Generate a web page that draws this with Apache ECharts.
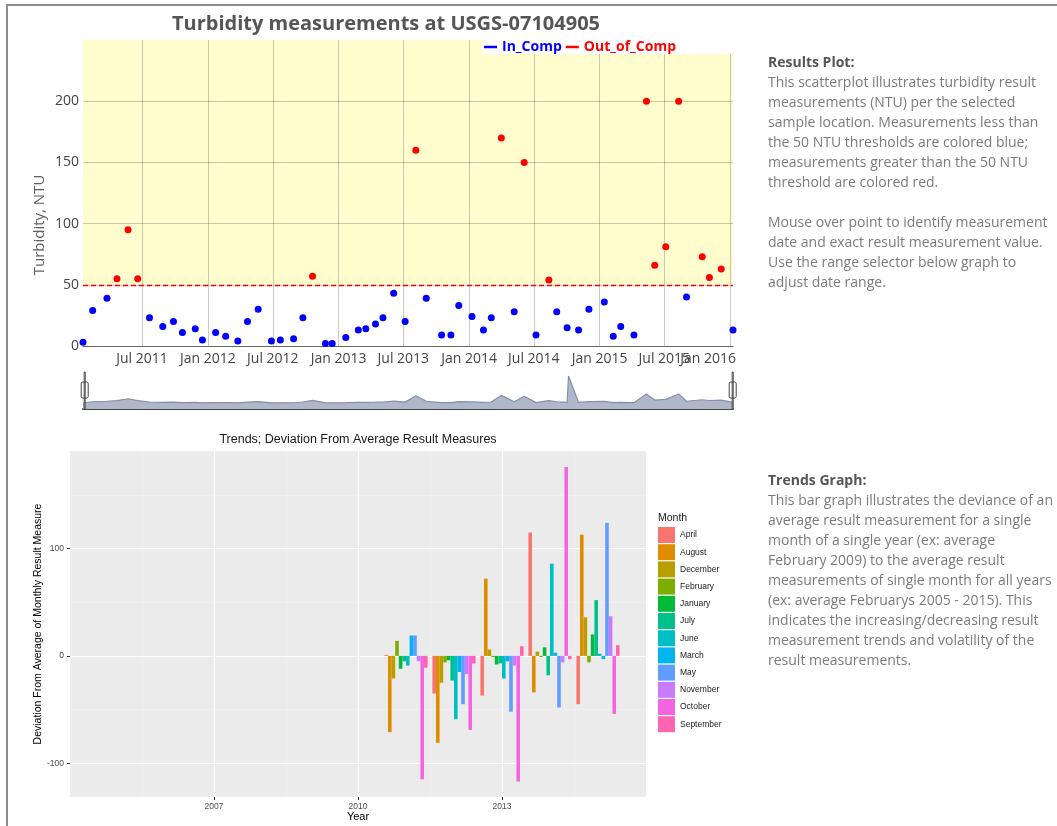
<!DOCTYPE html>
<html>
<head>
<meta charset="utf-8">
<title>Turbidity measurements at USGS-07104905</title>
<script src="https://cdn.jsdelivr.net/npm/echarts@6.0.0/dist/echarts.min.js"></script>
<style>
  html, body { margin: 0; padding: 0; background: #fff; }
  body { width: 1057px; height: 826px; position: relative; overflow: hidden; font-family: "Open Sans", sans-serif; }
  #frame { position: absolute; left: 6px; top: 4px; right: -10px; bottom: -10px;
           border-left: 2px solid #8c8c8c; border-top: 2px solid #8c8c8c; }
  #chart { position: absolute; left: 0; top: 0; width: 1057px; height: 826px; }
  .note { position: absolute; left: 768px; font-size: 14px; line-height: 20px; color: #7b7b7b; white-space: nowrap; }
  .note b { color: #555; }
</style>
</head>
<body>
<div id="frame"></div>
<div id="chart"></div>
<div class="note" style="top:52px">
  <b>Results Plot:</b><br>
  This scatterplot illustrates turbidity result<br>
  measurements (NTU) per the selected<br>
  sample location. Measurements less than<br>
  the 50 NTU thresholds are colored blue;<br>
  measurements greater than the 50 NTU<br>
  threshold are colored red.<br>
  <br>
  Mouse over point to identify measurement<br>
  date and exact result measurement value.<br>
  Use the range selector below graph to<br>
  adjust date range.
</div>
<div class="note" style="top:470px">
  <b>Trends Graph:</b><br>
  This bar graph illustrates the deviance of an<br>
  average result measurement for a single<br>
  month of a single year (ex: average<br>
  February 2009) to the average result<br>
  measurements of single month for all years<br>
  (ex: average Februarys 2005 - 2015). This<br>
  indicates the increasing/decreasing result<br>
  measurement trends and volatility of the<br>
  result measurements.
</div>
<script>
// turbidity samples below the threshold
const inCompDates = ['2011-01-17', '2011-02-13', '2011-03-25', '2011-07-22', '2011-08-28', '2011-09-27',
  '2011-10-22', '2011-11-27', '2011-12-17', '2012-01-23', '2012-02-20', '2012-03-25', '2012-04-21',
  '2012-05-21', '2012-06-27', '2012-07-22', '2012-08-28', '2012-09-23', '2012-11-25', '2012-12-14',
  '2013-01-21', '2013-02-25', '2013-03-18', '2013-04-14', '2013-05-05', '2013-06-04', '2013-07-06',
  '2013-09-03', '2013-10-16', '2013-11-11', '2013-12-03', '2014-01-09', '2014-02-10', '2014-03-04',
  '2014-05-07', '2014-07-07', '2014-09-03', '2014-10-02', '2014-11-03', '2014-12-02', '2015-01-14',
  '2015-02-08', '2015-03-01', '2015-04-07', '2015-09-01', '2016-01-09'];
const inCompValues = [3, 29, 39, 23, 16, 20, 11, 14, 5, 11, 8, 4, 20, 30, 4, 5, 6, 23, 2, 2,
  7, 13, 14, 18, 23, 43, 20, 39, 9, 9, 33, 24, 13, 23, 28, 9, 28, 15, 13, 30, 36, 8, 16, 9, 40, 13];

// samples above the threshold (one of them is off the plotted range)
const outCompDates = ['2011-04-22', '2011-05-23', '2011-06-19', '2012-10-20', '2013-08-05', '2014-04-01',
  '2014-06-04', '2014-08-12', '2014-10-06', '2015-05-12', '2015-06-04', '2015-07-05', '2015-08-10',
  '2015-10-15', '2015-11-04', '2015-12-07'];
const outCompValues = [55, 95, 55, 57, 160, 170, 150, 54, 600, 200, 66, 81, 200, 73, 56, 63];

const dateTicks = ['2011-07-01', '2012-01-01', '2012-07-01', '2013-01-01', '2013-07-01', '2014-01-01',
  '2014-07-01', '2015-01-01', '2015-07-01', '2016-01-01'];
const ntuTicks = [0, 50, 100, 150, 200];
const threshold = 50;
const ntuMax = 250;

// monthly deviation from average, years 2011..2015
const years = [2011, 2012, 2013, 2014, 2015];
const aprilDev = [1, -35, -37, 115, -45];
const augustDev = [-71, -81, 72, -34, 113];
const decemberDev = [-21, -25, 6, 4, 36];
const februaryDev = [14, -6, -1, -1, -6];
const januaryDev = [-12, -4, -8, 8, 20];
const julyDev = [-5, -23, -7, -18, 52];
const juneDev = [-9, -59, -21, 86, 2];
const marchDev = [19, -15, -5, 3, -3];
const mayDev = [19, -45, -52, -48, 124];
const novemberDev = [-5, -17, -9, -6, 37];
const octoberDev = [-115, -69, -117, 176, -54];
const septemberDev = [-11, -7, 9, -3, 10];

const months = ['April', 'August', 'December', 'February', 'January', 'July', 'June',
  'March', 'May', 'November', 'October', 'September'];
const monthDevs = [aprilDev, augustDev, decemberDev, februaryDev, januaryDev, julyDev, juneDev,
  marchDev, mayDev, novemberDev, octoberDev, septemberDev];
const monthColors = ['#F8766D', '#DE8C00', '#B79F00', '#7CAE00', '#00BA38', '#00C08B', '#00BFC4',
  '#00B4F0', '#619CFF', '#C77CFF', '#F564E3', '#FF64B0'];

const yearTicks = [2007, 2010, 2013];
const yearMinorTicks = [2005.5, 2008.5, 2011.5, 2014.5];
const devTicks = [-100, 0, 100];
const devMinorTicks = [-50, 50, 150];

const toTime = s => new Date(s + 'T00:00:00').getTime();
const monthAbbr = ['Jan', 'Feb', 'Mar', 'Apr', 'May', 'Jun', 'Jul', 'Aug', 'Sep', 'Oct', 'Nov', 'Dec'];
const fmtDate = v => { const d = new Date(v); return monthAbbr[d.getMonth()] + ' ' + d.getFullYear(); };

const inCompData = inCompDates.map((d, i) => [toTime(d), inCompValues[i]]);
const outCompData = outCompDates.map((d, i) => [toTime(d), outCompValues[i]]);
// range slider preview: all samples in date order
const allData = inCompData.concat(outCompData).sort((a, b) => a[0] - b[0]);
const firstDate = allData[0][0];
const lastDate = allData[allData.length - 1][0];
const dateTickTimes = dateTicks.map(toTime);

const openSans = '"Open Sans", sans-serif';
const ggFont = '"Liberation Sans", Arial, sans-serif';
const plotGrid = 'rgba(80, 80, 80, 0.3)';

const chart = echarts.init(document.getElementById('chart'));

const option = {
  backgroundColor: 'transparent',
  animation: false,
  textStyle: { fontFamily: openSans },
  title: [
    {
      text: 'Turbidity measurements at USGS-07104905',
      left: 386, top: 14, padding: 0, textAlign: 'center',
      textStyle: { fontSize: 20, fontWeight: 'bold', color: '#555', fontFamily: openSans }
    },
    {
      text: 'Trends; Deviation From Average Result Measures',
      left: 358, top: 433, padding: 0, textAlign: 'center',
      textStyle: { fontSize: 12.5, fontWeight: 'normal', color: '#1a1a1a', fontFamily: ggFont }
    },
    {
      text: 'Month',
      left: 658, top: 513, padding: 0,
      textStyle: { fontSize: 10.5, fontWeight: 'normal', color: '#1a1a1a', fontFamily: ggFont }
    }
  ],
  graphic: [{
    type: 'text', x: 40, y: 225, rotation: Math.PI / 2, silent: true,
    style: { text: 'Turbidity, NTU', fill: '#5e5e5e', font: '15px "Open Sans"', align: 'center', verticalAlign: 'middle' }
  }],
  legend: [
    {
      data: [
        { name: 'In_Comp', textStyle: { color: '#0000ff' } },
        { name: 'Out_of_Comp', textStyle: { color: '#ff0000' } }
      ],
      left: 483, top: 40, padding: [0, 58, 0, 1], backgroundColor: '#fff',
      icon: 'rect', itemWidth: 13, itemHeight: 2.5, itemGap: 4,
      textStyle: { fontSize: 14, fontWeight: 'bold', fontFamily: openSans }
    },
    {
      data: months,
      orient: 'vertical', left: 658, top: 527, padding: 0,
      icon: 'rect', itemWidth: 17, itemHeight: 16, itemGap: 1.2,
      textStyle: { fontSize: 8.5, color: '#1a1a1a', fontFamily: ggFont }
    }
  ],
  grid: [
    { left: 83, top: 40, width: 650, height: 306, containLabel: false, outerBoundsMode: 'none' },
    { left: 83, top: 373, width: 650, height: 36, containLabel: false, outerBoundsMode: 'none' },
    { left: 70, top: 451, width: 576, height: 346, containLabel: false, outerBoundsMode: 'none',
      show: true, backgroundColor: '#EBEBEB', borderWidth: 0 }
  ],
  xAxis: [
    {
      // dates as epoch milliseconds on a linear axis
      type: 'value', gridIndex: 0, min: firstDate, max: lastDate,
      axisLine: { show: true, onZero: false, lineStyle: { color: '#666', width: 1 } },
      axisTick: { show: false, customValues: dateTickTimes },
      axisLabel: {
        customValues: dateTickTimes.slice(0, -1), hideOverlap: false,
        color: '#444', fontSize: 14, margin: 6, fontFamily: openSans, formatter: fmtDate
      },
      splitLine: { show: true, lineStyle: { color: plotGrid, width: 1 } }
    },
    {
      type: 'value', gridIndex: 1, min: firstDate, max: lastDate,
      axisLine: { show: true, onZero: false, lineStyle: { color: '#444', width: 2 } },
      axisTick: { show: false }, axisLabel: { show: false }, splitLine: { show: false }
    },
    {
      type: 'value', gridIndex: 2, min: 2004, max: 2016,
      name: 'Year', nameLocation: 'middle', nameGap: 14, nameMoveOverlap: false,
      nameTextStyle: { fontSize: 11, color: '#000', fontFamily: ggFont },
      axisLine: { show: false, onZero: false },
      axisTick: { show: true, length: 3, customValues: yearTicks, lineStyle: { color: '#333' } },
      axisLabel: {
        customValues: yearTicks, color: '#4d4d4d', fontSize: 8.5, margin: 5, fontFamily: ggFont,
        formatter: v => String(v)
      },
      splitLine: { show: true, lineStyle: { color: '#fff', width: 1.2 } }
    },
    {
      type: 'value', gridIndex: 2, min: 2004, max: 2016,
      axisLine: { show: false, onZero: false },
      axisTick: { show: false, customValues: yearMinorTicks },
      axisLabel: { show: false },
      splitLine: { show: true, lineStyle: { color: '#f4f4f4', width: 0.6 } }
    },
    {
      // last date label, pulled inside the plot edge like the original
      type: 'value', gridIndex: 0, position: 'bottom', min: firstDate, max: lastDate,
      axisLine: { show: false, onZero: false },
      axisTick: { show: false, customValues: dateTickTimes.slice(-1) },
      axisLabel: {
        customValues: dateTickTimes.slice(-1), showMaxLabel: true, margin: 6,
        formatter: v => '{edge|' + fmtDate(v) + '}',
        rich: { edge: { padding: [0, 44, 0, 0], color: '#444', fontSize: 14, fontFamily: openSans } }
      },
      splitLine: { show: false }
    }
  ],
  yAxis: [
    {
      type: 'value', gridIndex: 0, min: 0, max: ntuMax,
      axisLine: { show: false },
      axisTick: { show: false, customValues: ntuTicks },
      axisLabel: { customValues: ntuTicks, color: '#444', fontSize: 14, margin: 4, fontFamily: openSans },
      splitLine: { show: true, lineStyle: { color: plotGrid, width: 1 } }
    },
    { type: 'value', gridIndex: 1, min: -132, max: 665, show: false },
    {
      type: 'value', gridIndex: 2, min: -131.5, max: 191,
      name: 'Deviation From Average of Monthly Result Measure', nameLocation: 'middle',
      nameGap: 26, nameMoveOverlap: false,
      nameTextStyle: { fontSize: 10.5, color: '#000', fontFamily: ggFont },
      axisLine: { show: false, onZero: false },
      axisTick: { show: true, length: 3, customValues: devTicks, lineStyle: { color: '#333' } },
      axisLabel: { customValues: devTicks, color: '#4d4d4d', fontSize: 8.5, margin: 6, fontFamily: ggFont },
      splitLine: { show: true, lineStyle: { color: '#fff', width: 1.2 } }
    },
    {
      type: 'value', gridIndex: 2, min: -131.5, max: 191, position: 'left',
      axisLine: { show: false, onZero: false },
      axisTick: { show: false, customValues: devMinorTicks },
      axisLabel: { show: false },
      splitLine: { show: true, lineStyle: { color: '#f4f4f4', width: 0.6 } }
    }
  ],
  dataZoom: [{
    type: 'slider', xAxisIndex: [0, 1, 4], filterMode: 'none',
    left: 83, width: 650, top: 372, height: 37, start: 0, end: 100,
    showDataShadow: false, showDetail: false, brushSelect: false,
    backgroundColor: 'rgba(0,0,0,0)', borderColor: 'rgba(0,0,0,0)', fillerColor: 'rgba(0,0,0,0)',
    handleIcon: 'path://M3.5,0H4.5V37H3.5Z M2,11H6Q7.5,11 7.5,12.5V25.5Q7.5,27 6,27H2Q0.5,27 0.5,25.5V12.5Q0.5,11 2,11Z',
    handleSize: '100%',
    handleStyle: { color: '#fff', borderColor: '#444', borderWidth: 1 },
    moveHandleSize: 0, moveHandleStyle: { opacity: 0 },
    emphasis: { handleStyle: { color: '#fff', borderColor: '#444' }, moveHandleStyle: { opacity: 0 } },
    dataBackground: { lineStyle: { opacity: 0 }, areaStyle: { opacity: 0 } },
    selectedDataBackground: { lineStyle: { opacity: 0 }, areaStyle: { opacity: 0 } }
  }],
  series: [
    {
      name: 'In_Comp', type: 'scatter', xAxisIndex: 0, yAxisIndex: 0,
      symbolSize: 7, itemStyle: { color: '#0000ff', opacity: 1 }, data: inCompData,
      markArea: {
        silent: true, z: -1, itemStyle: { color: '#fffdcd' },
        data: [[{ yAxis: threshold }, { yAxis: ntuMax }]]
      },
      markLine: {
        silent: true, symbol: 'none', label: { show: false },
        lineStyle: { color: '#ff0000', type: [5, 3], width: 1.3 },
        data: [{ yAxis: threshold }]
      }
    },
    {
      name: 'Out_of_Comp', type: 'scatter', xAxisIndex: 0, yAxisIndex: 0, clip: true,
      symbolSize: 7, itemStyle: { color: '#ff0000', opacity: 1 }, data: outCompData
    },
    {
      name: 'All samples', type: 'line', xAxisIndex: 1, yAxisIndex: 1, silent: true,
      symbol: 'none', data: allData,
      lineStyle: { color: '#8590aa', width: 1.2 },
      areaStyle: { color: '#b0b7ca', opacity: 1, origin: 'start' }
    }
  ].concat(months.map((m, i) => ({
    name: m, type: 'bar', xAxisIndex: 2, yAxisIndex: 2,
    barGap: '0%', barCategoryGap: '10%',
    itemStyle: { color: monthColors[i] },
    data: years.map((y, j) => [y, monthDevs[i][j]])
  })))
};

chart.setOption(option);
</script>
</body>
</html>
